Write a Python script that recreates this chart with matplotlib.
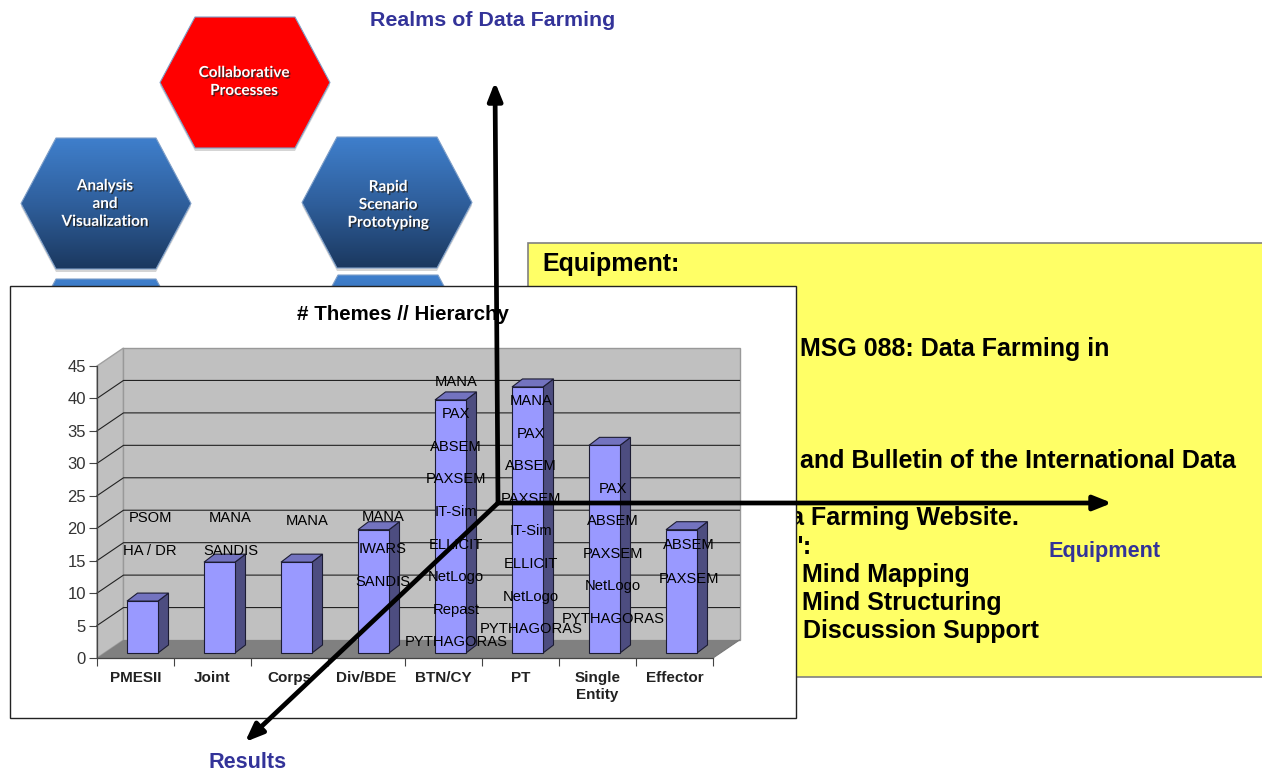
import numpy as np
import matplotlib
matplotlib.use('Agg')
import matplotlib.pyplot as plt
import matplotlib.patheffects as pe
from matplotlib.patches import Polygon, Rectangle

plt.rcParams['font.family'] = ['Liberation Sans', 'DejaVu Sans']

categories = ['PMESII', 'Joint', 'Corps', 'Div/BDE', 'BTN/CY', 'PT', 'Single\nEntity', 'Effector']
themes = [8, 14, 14, 19, 39, 41, 32, 19]
tool_names = [
    ['HA / DR', 'PSOM'],
    ['SANDIS', 'MANA'],
    ['MANA'],
    ['SANDIS', 'IWARS', 'MANA'],
    ['PYTHAGORAS', 'Repast', 'NetLogo', 'ELLICIT', 'IT-Sim', 'PAXSEM', 'ABSEM', 'PAX', 'MANA'],
    ['PYTHAGORAS', 'NetLogo', 'ELLICIT', 'IT-Sim', 'PAXSEM', 'ABSEM', 'PAX', 'MANA'],
    ['PYTHAGORAS', 'NetLogo', 'PAXSEM', 'ABSEM', 'PAX'],
    ['PAXSEM', 'ABSEM'],
]
tool_heights = [
    [16, 21],
    [16, 21],
    [20.6],
    [11.2, 16.2, 21.2],
    [1.9, 6.8, 11.9, 16.9, 22, 27, 32, 37, 42],
    [3.9, 8.9, 13.9, 19, 24, 29, 34, 39],
    [5.5, 10.5, 15.5, 20.5, 25.5],
    [11.7, 16.8],
]

fig = plt.figure(figsize=(12.62, 7.72), dpi=100)
W, H = 1262.0, 772.0


def pixel_axes(z):
    a = fig.add_axes([0, 0, 1, 1], zorder=z)
    a.set_xlim(0, W)
    a.set_ylim(H, 0)
    a.axis('off')
    a.patch.set_alpha(0)
    return a


# background slide: hexagons and the yellow box
bg = pixel_axes(0)
grad = np.linspace(0, 1, 256).reshape(-1, 1)
blues = matplotlib.colors.LinearSegmentedColormap.from_list('b', ['#3f7fcc', '#2f5f9c', '#1b385f'])


def hexagon(cx, top, colour=None):
    h = 131
    pts = [(cx - 85, top + h / 2), (cx - 50, top), (cx + 50, top), (cx + 85, top + h / 2),
           (cx + 50, top + h), (cx - 50, top + h)]
    bg.add_patch(Polygon([(x, y + 3) for x, y in pts], fc='#d5d5d5', ec='none', zorder=1))
    if colour:
        p = Polygon(pts, fc=colour, ec='#7f9fc8', lw=0.8, zorder=2)
        bg.add_patch(p)
    else:
        p = Polygon(pts, fc='none', ec='#7f9fc8', lw=0.8, zorder=3)
        bg.add_patch(p)
        im = bg.imshow(grad, cmap=blues, extent=(cx - 85, cx + 85, top + h, top), aspect='auto', zorder=2)
        im.set_clip_path(p)


hexagon(245, 17, '#ff0000')
hexagon(106, 138)
hexagon(387, 137)
hexagon(106, 279)
hexagon(388, 275)
bg.set_xlim(0, W)
bg.set_ylim(H, 0)

shadow = [pe.withSimplePatchShadow(offset=(1, -1), shadow_rgbFace='#222222', alpha=0.8)]
for cx, cy, s in [(244, 82, 'Collaborative\nProcesses'),
                  (105, 204, 'Analysis\nand\nVisualization'),
                  (388, 205, 'Rapid\nScenario\nPrototyping')]:
    bg.text(cx, cy, s, color='white', fontsize=11, fontweight='bold', family=['Lato', 'DejaVu Sans'],
            ha='center', va='center', linespacing=1.35, path_effects=shadow, zorder=5)

bg.add_patch(Rectangle((528, 243), 760, 434, fc='#ffff66', ec='#808080', lw=1.2, zorder=1))
box_text = [
    (542, 264, 'left', 'Equipment:'),
    (800, 349, 'left', 'MSG 088: Data Farming in'),
    (800, 461, 'left', 'and Bulletin of the International Data'),
    (1019, 518, 'right', 'Data Farming Website.'),
    (791, 547, 'left', '":'),
    (802, 575, 'left', 'Mind Mapping'),
    (802, 603, 'left', 'Mind Structuring'),
    (803, 631, 'left', 'Discussion Support'),
]
for x, y, ha, s in box_text:
    bg.text(x, y, s, fontsize=18, fontweight='bold', color='black', ha=ha, va='center', zorder=3)

# chart panel
bg2 = pixel_axes(1)
bg2.add_patch(Rectangle((10, 286), 786, 432, fc='white', ec='#222222', lw=1))
bg2.text(403, 315, '# Themes // Hierarchy', fontsize=14.8, fontweight='bold', ha='center', va='center')

# 3d-looking column chart; front plane of the box is the real axes
ax = fig.add_axes([97 / W, 1 - 658 / H, 616 / W, 292 / H], zorder=2)
ax.patch.set_alpha(0)
ax.set_xlim(0, 8)
ax.set_ylim(0, 45)
px = 8 / 616.0
py = 45 / 292.0
wall_dx, wall_dy = 26.5 * px, 18 * py
bar_dx, bar_dy = 10.5 * px, 8 * py
base = 5 * py
bar_left, bar_w = 30 * px, 31 * px
label_shift = [7.5, 11, 10.5, 9.5, 5.5, 3.5, 8.5, 7.5]

ax.add_patch(Polygon([(0, 0), (wall_dx, wall_dy), (wall_dx, 45 + wall_dy), (0, 45)],
                     fc='#c0c0c0', ec='#a0a0a0', lw=1, clip_on=False, zorder=1))
ax.add_patch(Rectangle((wall_dx, wall_dy), 8, 45, fc='#c0c0c0', ec='#999999', lw=1, clip_on=False, zorder=1))
ax.add_patch(Polygon([(0, 0), (wall_dx, wall_dy), (8 + wall_dx, wall_dy), (8, 0)],
                     fc='#808080', ec='none', clip_on=False, zorder=2))
ax.plot([8, 8 + wall_dx], [0, wall_dy], color='#777777', lw=0.8, clip_on=False, zorder=2)
for v in np.arange(5, 45, 5):
    ax.plot([0, wall_dx, 8 + wall_dx], [v, v + wall_dy, v + wall_dy], color='#222222', lw=0.8,
            clip_on=False, zorder=2)

for i, v in enumerate(themes):
    x0 = i + bar_left
    x1 = x0 + bar_w
    y1 = v + base
    ax.add_patch(Polygon([(x1, base), (x1 + bar_dx, base + bar_dy), (x1 + bar_dx, y1 + bar_dy), (x1, y1)],
                         fc='#4d4d80', ec='#1c1c33', lw=0.8, clip_on=False, zorder=3))
    ax.add_patch(Polygon([(x0, y1), (x0 + bar_dx, y1 + bar_dy), (x1 + bar_dx, y1 + bar_dy), (x1, y1)],
                         fc='#7373bf', ec='#1c1c33', lw=0.8, clip_on=False, zorder=3))
    ax.add_patch(Rectangle((x0, base), bar_w, v, fc='#9999ff', ec='#1c1c33', lw=0.8, clip_on=False, zorder=4))
    for name, h in zip(tool_names[i], tool_heights[i]):
        ax.text(x0 + bar_w / 2 + label_shift[i] * px, h + base - 1.5 * py, name, fontsize=10.6,
                color='black', ha='center', va='center', clip_on=False, zorder=6)

ax.set_xticks(np.arange(9))
ax.set_xticklabels([])
ax.set_xticks(np.arange(8) + 0.5, minor=True)
ax.set_xticklabels(categories, minor=True, fontsize=11, fontweight='bold', color='#222222', linespacing=1.3)
ax.tick_params(axis='x', which='major', length=6, width=0.8, color='#444444')
ax.tick_params(axis='x', which='minor', length=0, pad=9.5)
ax.set_yticks(np.arange(0, 50, 5))
ax.tick_params(axis='y', length=6, width=0.8, color='#444444', labelsize=12, labelcolor='#333333', pad=2)
for side in ['top', 'right']:
    ax.spines[side].set_visible(False)
for side in ['left', 'bottom']:
    ax.spines[side].set_color('#444444')
    ax.spines[side].set_linewidth(0.9)
    ax.spines[side].set_zorder(5)

# axes arrows and their captions on top of everything
top = pixel_axes(3)
origin = (498, 503)
for end in [(495, 82), (1112, 503), (245, 742)]:
    top.annotate('', xy=end, xytext=origin,
                 arrowprops=dict(arrowstyle='-|>,head_length=0.9,head_width=0.36', lw=3.4, color='black',
                                 shrinkA=0, shrinkB=0, mutation_scale=12))
for x, y, s, fs in [(493, 21, 'Realms of Data Farming', 15.4), (1105, 552, 'Equipment', 15.6), (248, 763, 'Results', 15.6)]:
    top.text(x, y, s, color='#333399', fontsize=fs, fontweight='bold', ha='center', va='center')

fig.savefig('out.png', dpi=100)
